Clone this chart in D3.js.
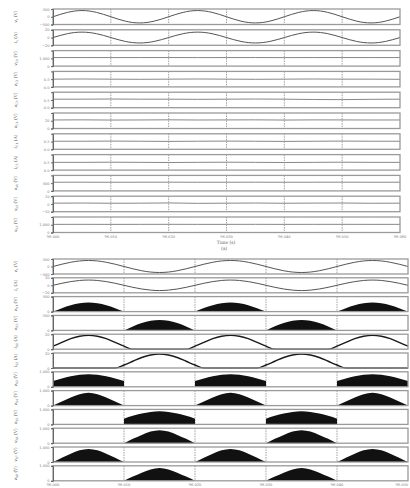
<!DOCTYPE html>
<html lang="en">
<head>
<meta charset="UTF-8">
<title>Converter waveforms</title>
<script src="https://cdn.jsdelivr.net/npm/d3@7"></script>
<style>
  body { margin: 0; background: #fff; }
  svg { display: block; font-family: "DejaVu Serif", serif; }
</style>
</head>
<body>
<div id="chart"></div>
<script>
const n = null;

// ---- panel (a): time axis, ms after 96.000 s ----
const timeTop = [0, 2.5, 5, 7.5, 10, 12.5, 15, 17.5, 20, 22.5, 25, 27.5, 30,
  32.5, 35, 37.5, 40, 42.5, 45, 47.5, 50, 52.5, 55, 57.5, 60];
const timeTopFlat = [0, 5, 10, 15, 20, 25, 30, 35, 40, 45, 50, 55, 60];
const tickTimesTop = [0, 10, 20, 30, 40, 50, 60];
const tickLabelsTop = ["96.000", "96.010", "96.020", "96.030", "96.040", "96.050", "96.060"];

const vsTop = [0, 282, 400, 284, 1, -283, -400, -282, 0, 283, 399, 283, 0,
  -284, -400, -283, 0, 282, 400, 283, 0, -283, -399, -283, 0];
const isTop = [0, 10, 14, 10, 0, -10, -14, -10, 0, 10, 14, 10, 0,
  -10, -14, -10, 0, 10, 14, 10, 0, -10, -14, -10, 0];
const vC1Top = [1100, 1104, 1098, 1102, 1106, 1099, 1101, 1105, 1097, 1103, 1104, 1100, 1102];
const vC2Top = [0.50, 0.51, 0.50, 0.49, 0.50, 0.51, 0.50, 0.49, 0.50, 0.51, 0.50, 0.50, 0.49];
const vC3Top = [0.55, 0.55, 0.56, 0.55, 0.55, 0.54, 0.55, 0.56, 0.55, 0.53, 0.52, 0.54, 0.55];
const vC4Top = [22, 22.3, 21.8, 22, 22.4, 21.9, 22.1, 22.3, 21.8, 22.2, 22.1, 21.9, 22];
const iC1Top = [0.52, 0.52, 0.53, 0.52, 0.51, 0.52, 0.53, 0.52, 0.51, 0.52, 0.53, 0.52, 0.52];
const iC2Top = [0.50, 0.50, 0.51, 0.50, 0.49, 0.50, 0.51, 0.50, 0.49, 0.50, 0.51, 0.50, 0.50];
const vo1Top = [560, 562, 558, 561, 563, 559, 560, 562, 558, 561, 563, 560, 561];
const vo2Top = [1, 1.2, 0.9, 1, 1.3, 0.8, 1, 1.2, 0.9, 1.1, 1.2, 0.9, 1];
const vo3Top = [1050, 1053, 1048, 1051, 1055, 1049, 1050, 1054, 1047, 1052, 1053, 1049, 1051];

const labelsTop = ["v_s (V)", "i_s (A)", "v_C1 (V)", "v_C2 (V)", "v_C3 (V)", "v_C4 (V)",
  "i_C1 (A)", "i_C2 (A)", "v_o1 (V)", "v_o2 (V)", "v_o3 (V)"];

// ---- panel (b) ----
const timeBot = [0, 1.25, 2.5, 3.75, 5, 6.25, 7.5, 8.75, 10, 11.25, 12.5, 13.75, 15,
  16.25, 17.5, 18.75, 20, 21.25, 22.5, 23.75, 25, 26.25, 27.5, 28.75, 30,
  31.25, 32.5, 33.75, 35, 36.25, 37.5, 38.75, 40, 41.25, 42.5, 43.75, 45,
  46.25, 47.5, 48.75, 50];
const tickTimesBot = [0, 10, 20, 30, 40, 50];
const tickLabelsBot = ["96.000", "96.010", "96.020", "96.030", "96.040", "96.050"];

const vsBot = [0, 153, 283, 370, 400, 370, 283, 153, 0, -153, -283, -370, -400, -370, -283, -153,
  0, 153, 283, 370, 400, 370, 283, 153, 0, -153, -283, -370, -400, -370, -283, -153,
  0, 153, 283, 370, 400, 370, 283, 153, 0];
const isBot = [0, 5.4, 9.9, 12.9, 14, 12.9, 9.9, 5.4, 0, -5.4, -9.9, -12.9, -14, -12.9, -9.9, -5.4,
  0, 5.4, 9.9, 12.9, 14, 12.9, 9.9, 5.4, 0, -5.4, -9.9, -12.9, -14, -12.9, -9.9, -5.4,
  0, 5.4, 9.9, 12.9, 14, 12.9, 9.9, 5.4, 0];
const vS1Bot = [0, 115, 212, 277, 300, 277, 212, 115, 0, n, n, n, n, n, n, n,
  0, 116, 213, 278, 301, 277, 212, 114, 0, n, n, n, n, n, n, n,
  0, 115, 212, 276, 300, 277, 212, 115, 0];
const vS2Bot = [n, n, n, n, n, n, n, n, 0, 134, 247, 323, 350, 323, 247, 134, 0,
  n, n, n, n, n, n, n, 0, 135, 248, 323, 350, 322, 246, 134, 0, n, n, n, n, n, n, n, n];
const iS1Bot = [4, 9, 14, 17.3, 18.5, 17.3, 14, 9, 4, 0, 0, 0, 0, 0, 0, 0,
  4, 9, 14, 17.3, 18.5, 17.3, 14, 9, 4, 0, 0, 0, 0, 0, 0, 0,
  4, 9, 14, 17.3, 18.5, 17.3, 14, 9, 4];
const iS2Bot = [0, 0, 0, 0, 0, 0, 0, 0, 4, 9, 14, 17.3, 18.5, 17.3, 14, 9, 4,
  0, 0, 0, 0, 0, 0, 0, 4, 9, 14, 17.3, 18.5, 17.3, 14, 9, 4, 0, 0, 0, 0, 0, 0, 0, 0];
const vS3Bot = [380, 560, 700, 800, 840, 800, 700, 560, 380, n, n, n, n, n, n, n,
  380, 560, 700, 800, 840, 800, 700, 560, 380, n, n, n, n, n, n, n,
  380, 560, 700, 800, 840, 800, 700, 560, 380];
const vS4Bot = [0, 280, 540, 760, 850, 760, 540, 280, 0, n, n, n, n, n, n, n,
  0, 280, 540, 760, 850, 760, 540, 280, 0, n, n, n, n, n, n, n,
  0, 280, 540, 760, 850, 760, 540, 280, 0];
const vS5Bot = [n, n, n, n, n, n, n, n, 380, 570, 720, 830, 870, 830, 720, 570, 380,
  n, n, n, n, n, n, n, 380, 570, 720, 830, 870, 830, 720, 570, 380, n, n, n, n, n, n, n, n];
const vS6Bot = [n, n, n, n, n, n, n, n, 0, 290, 555, 780, 870, 780, 555, 290, 0,
  n, n, n, n, n, n, n, 0, 290, 555, 780, 870, 780, 555, 290, 0, n, n, n, n, n, n, n, n];
const vS7Bot = [0, 290, 555, 780, 870, 780, 555, 290, 0, n, n, n, n, n, n, n,
  0, 290, 555, 780, 870, 780, 555, 290, 0, n, n, n, n, n, n, n,
  0, 290, 555, 780, 870, 780, 555, 290, 0];
const vS8Bot = [n, n, n, n, n, n, n, n, 0, 280, 540, 760, 850, 760, 540, 280, 0,
  n, n, n, n, n, n, n, 0, 280, 540, 760, 850, 760, 540, 280, 0, n, n, n, n, n, n, n, n];

const labelsBot = ["v_s (V)", "i_s (A)", "v_S1 (V)", "v_S2 (V)", "i_S1 (A)", "i_S2 (A)",
  "v_S3 (V)", "v_S4 (V)", "v_S5 (V)", "v_S6 (V)", "v_S7 (V)", "v_S8 (V)"];

// rows: times, values, y domain, y ticks, mark type
const rowsTop = [
  [timeTop, vsTop, [-500, 500], [-500, 0, 500], "sine"],
  [timeTop, isTop, [-20, 20], [-20, 0, 20], "sine"],
  [timeTopFlat, vC1Top, [0, 2000], [0, 1000], "flat"],
  [timeTopFlat, vC2Top, [0, 1], [0, 0.5], "flat"],
  [timeTopFlat, vC3Top, [0, 1], [0, 0.5], "flat"],
  [timeTopFlat, vC4Top, [0, 40], [0, 20], "flat"],
  [timeTopFlat, iC1Top, [0, 1], [0, 0.5], "flat"],
  [timeTopFlat, iC2Top, [0, 1], [0, 0.5], "flat"],
  [timeTopFlat, vo1Top, [0, 1000], [0, 500], "flat"],
  [timeTopFlat, vo2Top, [-10, 10], [-10, 0, 10], "flat"],
  [timeTopFlat, vo3Top, [0, 2000], [0, 1000], "flat"]
];
const rowsBot = [
  [timeBot, vsBot, [-500, 500], [-500, 0, 500], "sine"],
  [timeBot, isBot, [-20, 20], [-20, 0, 20], "sine"],
  [timeBot, vS1Bot, [0, 500], [0, 500], "area"],
  [timeBot, vS2Bot, [0, 500], [0, 500], "area"],
  [timeBot, iS1Bot, [0, 20], [0, 20], "hump"],
  [timeBot, iS2Bot, [0, 20], [0, 20], "hump"],
  [timeBot, vS3Bot, [0, 1000], [0, 1000], "area"],
  [timeBot, vS4Bot, [0, 1000], [0, 1000], "area"],
  [timeBot, vS5Bot, [0, 1000], [0, 1000], "area"],
  [timeBot, vS6Bot, [0, 1000], [0, 1000], "area"],
  [timeBot, vS7Bot, [0, 1000], [0, 1000], "area"],
  [timeBot, vS8Bot, [0, 1000], [0, 1000], "area"]
];

const W = 410, H = 488;
const svg = d3.select("#chart").append("svg").attr("width", W).attr("height", H);

function rowLabel(g, label, x, y) {
  const m = label.match(/^(\w)_(\w+)(.*)$/);
  const t = g.append("text")
    .attr("transform", `translate(${x},${y}) rotate(-90)`)
    .attr("text-anchor", "middle")
    .attr("font-size", 4.4)
    .attr("fill", "#666");
  t.append("tspan").attr("font-style", "italic").text(m[1]);
  t.append("tspan").attr("font-size", 3.1).attr("dy", 1.1).text(m[2]);
  t.append("tspan").attr("dy", -1.1).text(m[3]);
}

function drawPanel(rows, labels, xRange, domainX, tickTimes, tickLabels, top, pitch, h) {
  const x = d3.scaleLinear().domain(domainX).range(xRange);
  rows.forEach((r, i) => {
    const [times, vals, dom, ticks, kind] = r;
    const y0 = top + i * pitch;
    const y = d3.scaleLinear().domain(dom).range([y0 + h, y0]);
    const pts = times.map((t, k) => ({ t, v: vals[k] }));
    const g = svg.append("g");

    // grid lines
    g.selectAll("line.grid").data(tickTimes.slice(1, -1)).join("line")
      .attr("x1", d => x(d)).attr("x2", d => x(d))
      .attr("y1", y0).attr("y2", y0 + h)
      .attr("stroke", "#8a8a8a").attr("stroke-width", 0.8)
      .attr("stroke-dasharray", "1.5,1");

    if (kind === "area") {
      g.append("path").datum(pts)
        .attr("d", d3.area().defined(d => d.v != null)
          .x(d => x(d.t)).y0(y(dom[0])).y1(d => y(d.v))
          .curve(d3.curveMonotoneX))
        .attr("fill", "#111");
    } else {
      const curve = kind === "sine" ? d3.curveNatural : d3.curveMonotoneX;
      g.append("path").datum(pts)
        .attr("d", d3.line().x(d => x(d.t)).y(d => y(d.v)).curve(curve))
        .attr("fill", "none")
        .attr("stroke", kind === "hump" ? "#1a1a1a" : (kind === "sine" ? "#555" : "#888"))
        .attr("stroke-width", kind === "hump" ? 1.4 : 1);
    }

    g.append("rect")
      .attr("x", xRange[0]).attr("y", y0)
      .attr("width", xRange[1] - xRange[0]).attr("height", h)
      .attr("fill", "none").attr("stroke", "#9a9a9a").attr("stroke-width", 1.3);

    const ax = g.append("g").attr("transform", `translate(${xRange[0]},0)`)
      .call(d3.axisLeft(y).tickValues(ticks).tickSize(2).tickPadding(1.5));
    ax.select(".domain").attr("stroke", "#666");
    ax.selectAll(".tick line").attr("stroke", "#666");
    ax.selectAll("text").attr("font-size", 3.6).attr("fill", "#777")
      .attr("font-family", "DejaVu Serif, serif");

    rowLabel(g, labels[i], 17, y0 + h / 2);
  });

  const yb = top + (rows.length - 1) * pitch + h;
  const last = tickTimes.length - 1;
  svg.append("g").selectAll("text").data(tickTimes).join("text")
    .attr("x", d => x(d)).attr("y", yb + 5)
    .attr("text-anchor", (d, k) => (k === last && xRange[1] > 404) ? "end" : "middle")
    .attr("font-size", 3.6).attr("fill", "#777")
    .text((d, k) => tickLabels[k]);
  return yb;
}

const ybTop = drawPanel(rowsTop, labelsTop, [53, 400], [0, 60], tickTimesTop, tickLabelsTop, 9, 20.8, 15.5);
svg.append("text").attr("x", 226).attr("y", ybTop + 11)
  .attr("text-anchor", "middle").attr("font-size", 4.5).attr("fill", "#666").text("Time (s)");
svg.append("text").attr("x", 224).attr("y", ybTop + 17)
  .attr("text-anchor", "middle").attr("font-size", 4.5).attr("fill", "#666").text("(a)");

drawPanel(rowsBot, labelsBot, [53, 408], [0, 50], tickTimesBot, tickLabelsBot, 259, 18.8, 15);
</script>
</body>
</html>
